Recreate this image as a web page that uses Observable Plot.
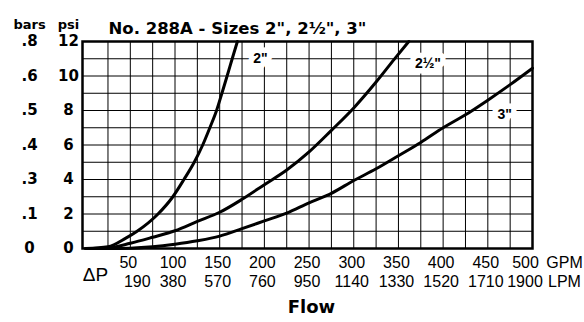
<!DOCTYPE html>
<html><head><meta charset="utf-8">
<script src="https://cdn.jsdelivr.net/npm/d3@7"></script>
<script src="https://cdn.jsdelivr.net/npm/@observablehq/plot@0.6"></script>
<style>body{margin:0;background:#fff}</style>
</head><body><div id="chart"></div>
<script>
// ---- data ----
const title = 'No. 288A - Sizes 2", 2½", 3"';
const psiTicks = [0, 2, 4, 6, 8, 10, 12];
const barTicks = ["0", ".1", ".3", ".4", ".5", ".6", ".8"];
const gpmTicks = [50, 100, 150, 200, 250, 300, 350, 400, 450, 500];
const lpmTicks = ["190", "380", "570", "760", "950", "1140", "1330", "1520", "1710", "1900"];
const gridGpm = [25, 50, 75, 100, 125, 150, 175, 200, 225, 250, 275, 300, 325, 350, 375, 400, 425, 450, 475];
const gridPsi = [1, 2, 3, 4, 5, 6, 7, 8, 9, 10, 11];

const gpm2 = [0, 25, 45, 57.6, 81, 97.6, 110, 121.5, 131, 139, 146.5, 152.5, 158.3, 164, 169.8];
const psi2 = [0, 0.1, 0.6, 1, 2, 3, 4, 5, 6, 7, 8, 9, 10, 11, 12];
const gpm25 = [0, 25, 50, 75, 100, 125, 150, 175, 200, 225, 250, 275, 300, 325, 345, 361.6];
const psi25 = [0, 0.03, 0.3, 0.65, 1.03, 1.57, 2.1, 2.85, 3.7, 4.55, 5.6, 6.85, 8.15, 9.65, 10.95, 12];
const gpm3 = [0, 25, 50, 75, 100, 125, 150, 175, 200, 225, 250, 275, 300, 325, 350, 375, 400, 425, 450, 475, 500];
const psi3 = [0, 0, 0.02, 0.1, 0.25, 0.45, 0.72, 1.15, 1.6, 2.05, 2.65, 3.2, 3.94, 4.62, 5.38, 6.15, 7.0, 7.75, 8.6, 9.5, 10.45];

const sizes = ['2"', '2½"', '3"'];
const labelGpm = [195.5, 383, 469];
const labelPsi = [11, 10.72, 7.76];

// ---- build tables ----
const rows = [
  ...gpm2.map((g, i) => ({size: sizes[0], gpm: g, psi: psi2[i]})),
  ...gpm25.map((g, i) => ({size: sizes[1], gpm: g, psi: psi25[i]})),
  ...gpm3.map((g, i) => ({size: sizes[2], gpm: g, psi: psi3[i]}))
];
const labels = sizes.map((s, i) => ({text: s, gpm: labelGpm[i], psi: labelPsi[i]}));
const bars = barTicks.map((b, i) => ({text: b, psi: psiTicks[i]}));
const lpm = lpmTicks.map((l, i) => ({text: l, gpm: gpmTicks[i]}));

const BOLD = "'DejaVu Sans', sans-serif";
const ARIAL = "'Liberation Sans', Arial, sans-serif";
const NARROW = "'Liberation Sans Narrow', 'Liberation Sans', Arial, sans-serif";
const M = "middle";

const n = gpmTicks.length;
const chart = Plot.plot({
  width: 584, height: 322,
  marginLeft: 82, marginRight: 52, marginTop: 41, marginBottom: 74,
  style: {background: "#fff", overflow: "visible"},
  x: {domain: [-3.5, 500], axis: null},
  y: {domain: [0, 12], axis: null},
  marks: [
    Plot.ruleX(gridGpm, {x: d => d, stroke: "#000", strokeWidth: 1}),
    Plot.ruleY(gridPsi, {y: d => d, stroke: "#000", strokeWidth: 1}),
    Plot.text(labels, {x: "gpm", y: "psi", text: "text", fontFamily: ARIAL, fontWeight: "bold", fontSize: 14,
      fill: "#000", stroke: "#fff", strokeWidth: 11}),
    Plot.line(rows, {x: "gpm", y: "psi", z: "size", curve: "monotone-x", stroke: "#000", strokeWidth: 3}),
    Plot.frame({stroke: "#000", strokeWidth: 2.5}),
    // y labels
    Plot.text(psiTicks, {y: d => d, text: d => String(d), frameAnchor: "left", dx: -14, textAnchor: M,
      fontFamily: BOLD, fontWeight: "bold", fontSize: 15, fill: "#000"}),
    Plot.text(bars, {y: "psi", text: "text", frameAnchor: "left", dx: -53, textAnchor: M,
      fontFamily: BOLD, fontWeight: "bold", fontSize: 15, fill: "#000"}),
    Plot.text(["bars"], {frameAnchor: "top-left", dx: -53, dy: -22, text: d => d, textAnchor: M,
      fontFamily: BOLD, fontWeight: "bold", fontSize: 13, fill: "#000"}),
    Plot.text(["psi"], {frameAnchor: "top-left", dx: -14, dy: -22, text: d => d, textAnchor: M,
      fontFamily: BOLD, fontWeight: "bold", fontSize: 13, fill: "#000"}),
    Plot.text([title], {frameAnchor: "top-left", dx: 26, dy: -19, text: d => d, textAnchor: "start",
      fontFamily: BOLD, fontWeight: "bold", fontSize: 16.5, fill: "#000"}),
    // x labels
    Plot.text(gpmTicks.slice(0, n - 1), {x: d => d, text: d => String(d), frameAnchor: "bottom", dy: 19, dx: -2,
      textAnchor: M, fontFamily: ARIAL, fontSize: 16, fill: "#000"}),
    Plot.text(gpmTicks.slice(n - 1), {x: d => d, text: d => String(d), frameAnchor: "bottom", dy: 19, dx: -7,
      textAnchor: M, fontFamily: ARIAL, fontSize: 16, fill: "#000"}),
    Plot.text(lpm.slice(0, 1), {x: "gpm", text: "text", frameAnchor: "bottom", dy: 38, dx: 7,
      textAnchor: M, fontFamily: ARIAL, fontSize: 16, fill: "#000"}),
    Plot.text(lpm.slice(1, 5), {x: "gpm", text: "text", frameAnchor: "bottom", dy: 38, dx: -2,
      textAnchor: M, fontFamily: ARIAL, fontSize: 16, fill: "#000"}),
    Plot.text(lpm.slice(5, n - 1), {x: "gpm", text: "text", frameAnchor: "bottom", dy: 38, dx: -2,
      textAnchor: M, fontFamily: NARROW, fontSize: 16, fill: "#000"}),
    Plot.text(lpm.slice(n - 1), {x: "gpm", text: "text", frameAnchor: "bottom", dy: 38, dx: -7.5,
      textAnchor: M, fontFamily: NARROW, fontSize: 16, fill: "#000"}),
    Plot.text(["GPM"], {frameAnchor: "bottom-right", dx: 32, dy: 19, text: d => d, textAnchor: M,
      fontFamily: ARIAL, fontSize: 16, fill: "#000"}),
    Plot.text(["LPM"], {frameAnchor: "bottom-right", dx: 32, dy: 38, text: d => d, textAnchor: M,
      fontFamily: ARIAL, fontSize: 16, fill: "#000"}),
    Plot.text(["ΔP"], {frameAnchor: "bottom-left", dx: 13, dy: 32, text: d => d, textAnchor: M,
      fontFamily: ARIAL, fontSize: 19, fill: "#000"}),
    Plot.text(["Flow"], {frameAnchor: "bottom", dx: 4, dy: 64, text: d => d, textAnchor: M,
      fontFamily: BOLD, fontWeight: "bold", fontSize: 18, fill: "#000"})
  ]
});
document.getElementById("chart").appendChild(chart);
</script>
</body></html>
